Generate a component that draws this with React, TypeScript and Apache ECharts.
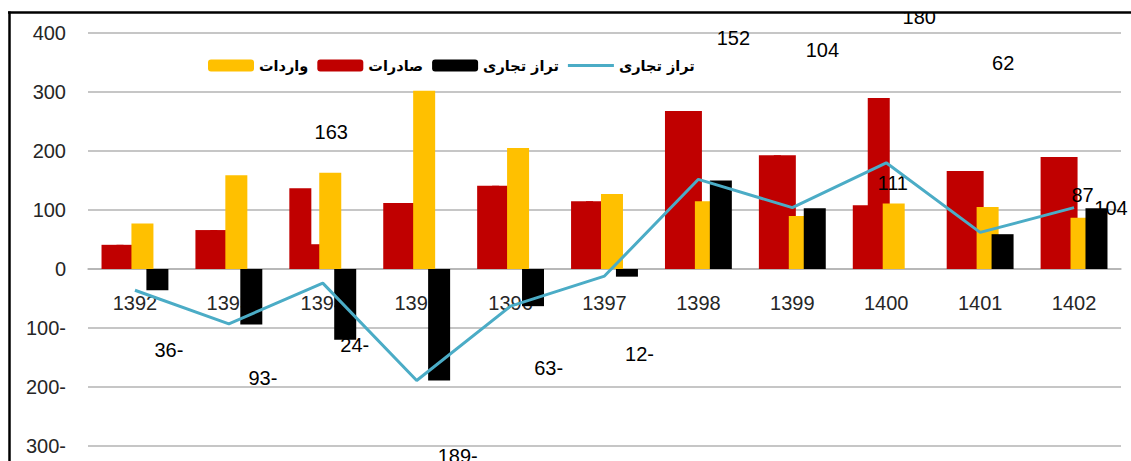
import React, { useEffect, useRef } from "react";
import * as echarts from "echarts";

// ---- data ----
const years = ["1392", "1393", "1394", "1395", "1396", "1397", "1398", "1399", "1400", "1401", "1402"];
const exportsMain = [41, 66, 137, 112, 141, 115, 268, 193, 108, 166, 190];
const exportsOverlay = [41, 66, 42, 112, 141, 115, 268, 193, 290, 166, 190];
const importsVals = [77, 159, 163, 302, 205, 127, 115, 90, 111, 105, 87];
const balanceBarVals: (number | string)[] = [-36, -94, -120, -189, -63, -13, 150, 103, "-", 59, 103];
const balanceLineVals = [-36, -93, -24, -189, -63, -12, 152, 104, 180, 62, 104];
const yMin = -300;
const yMax = 400;
const yStep = 100;

const legendText: Record<string, string> = {
  imports: "واردات",
  exports: "صادرات",
  balanceBar: "تراز تجاری",
  balanceLine: "تراز تجاری",
};

// label placement (style only)
const lineLabelOffsets = [
  [34, 60], [34, 54], [32, 62], [41, 75], [38, 62], [35, 78],
  [35, -141], [30, -158], [33, -146], [23, -169], [37, 0],
];
const importLabelOffsets: Record<number, number[]> = { 2: [1, -26], 8: [-1, -6], 10: [1, -8] };

const fmt = (v: number) => (v < 0 ? `${-v}-` : `${v}`);

const NUM_FONT = "'Liberation Sans', Arial, sans-serif";

const GRID_TOP = 33;
const GRID_BOTTOM = 15;
const CHART_H = 461;

export default function App() {
  const ref = useRef<HTMLDivElement>(null);
  useEffect(() => {
    if (!ref.current) return;
    const chart = echarts.init(ref.current, undefined, { renderer: "svg" });
    const barCommon = {
      type: "bar" as const,
      barWidth: 22,
      barGap: "-32%",
    };
    // distance from the grid bottom up to the zero line, computed from the y scale
    const gridH = CHART_H - GRID_TOP - GRID_BOTTOM;
    const zeroFromBottom = (gridH * (0 - yMin)) / (yMax - yMin);
    chart.setOption({
      animation: false,
      backgroundColor: "#ffffff",
      grid: { left: 88, right: 10, top: GRID_TOP, bottom: GRID_BOTTOM, outerBoundsMode: "none", containLabel: false },
      legend: {
        left: 208,
        top: 58,
        padding: 0,
        itemWidth: 46,
        itemHeight: 12,
        itemGap: 9,
        data: [
          "imports",
          "exports",
          "balanceBar",
          { name: "balanceLine", icon: "path://M0,0 L46,0 L46,3 L0,3 Z" },
        ],
        formatter: (name: string) => legendText[name] || name,
        textStyle: { fontFamily: "'DejaVu Sans', sans-serif", fontWeight: "bold", fontSize: 14.5, color: "#000" },
      },
      xAxis: {
        type: "category",
        data: years,
        position: "bottom",
        offset: -zeroFromBottom,
        axisLine: { onZero: false, lineStyle: { color: "#b3b3b3", width: 1.5 } },
        axisTick: { show: false },
        axisLabel: { margin: 24, fontSize: 20, fontFamily: NUM_FONT, color: "#262626" },
      },
      yAxis: {
        type: "value",
        min: yMin,
        max: yMax,
        interval: yStep,
        axisLine: { show: false },
        axisTick: { show: false },
        splitLine: { lineStyle: { color: "#b3b3b3", width: 1.5 } },
        axisLabel: {
          margin: 22,
          fontSize: 20,
          fontFamily: NUM_FONT,
          color: "#262626",
          formatter: (v: number) => fmt(v),
        },
      },
      series: [
        { ...barCommon, name: "exports", data: exportsMain, itemStyle: { color: "#c00000" } },
        { ...barCommon, name: "exportsOverlay", data: exportsOverlay, itemStyle: { color: "#c00000" } },
        {
          ...barCommon,
          name: "imports",
          itemStyle: { color: "#ffc000" },
          data: importsVals.map((v, i) =>
            importLabelOffsets[i]
              ? {
                  value: v,
                  label: {
                    show: true,
                    position: "top",
                    offset: importLabelOffsets[i],
                    fontSize: 20,
                    fontFamily: NUM_FONT,
                    color: "#000",
                  },
                }
              : v
          ),
        },
        { ...barCommon, name: "balanceBar", data: balanceBarVals, itemStyle: { color: "#000000" } },
        {
          type: "line",
          name: "balanceLine",
          symbol: "circle",
          symbolSize: 0,
          showSymbol: true,
          lineStyle: { color: "#4bacc6", width: 3 },
          itemStyle: { color: "#4bacc6" },
          data: balanceLineVals.map((v, i) => ({
            value: v,
            label: {
              show: true,
              position: "inside",
              offset: lineLabelOffsets[i],
              fontSize: 20,
              fontFamily: NUM_FONT,
              color: "#000",
              formatter: (p: any) => fmt(p.value),
            },
          })),
        },
      ],
      graphic: [
        { type: "rect", z: 100, shape: { x: 0, y: 0, width: 1131, height: 12 }, style: { fill: "#fff" } },
        { type: "line", z: 101, shape: { x1: 8, y1: 12.5, x2: 1131, y2: 12.5 }, style: { stroke: "#000", lineWidth: 2.5 } },
        { type: "line", z: 101, shape: { x1: 9.5, y1: 11.5, x2: 9.5, y2: 461 }, style: { stroke: "#000", lineWidth: 2.5 } },
      ],
    });
    return () => chart.dispose();
  }, []);
  return (
    <div
      ref={ref}
      style={{ position: "absolute", left: 0, top: 0, width: 1131, height: 461, background: "#fff" }}
    />
  );
}
